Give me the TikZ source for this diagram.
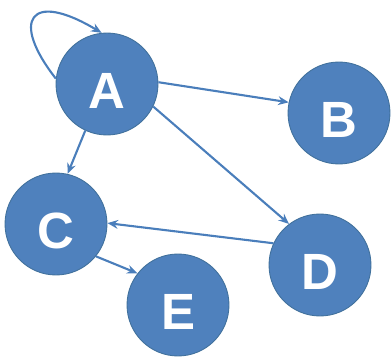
\documentclass[tikz,border=0pt]{standalone}
\usepackage{fontspec}
\setmainfont{Liberation Sans}
\usetikzlibrary{arrows.meta}
\definecolor{nodefill}{HTML}{4F81BD}
\definecolor{nodeedge}{HTML}{41719C}
\definecolor{edgecol}{HTML}{4A7EBB}
\tikzset{
  vertex/.style={circle, fill=nodefill, draw=nodeedge, line width=0.5pt,
    minimum size=2.04cm, inner sep=0pt, text=white,
    font=\fontsize{29}{29}\selectfont\bfseries,
    text height=27.4pt, text depth=0pt},
  link/.style={draw=edgecol, line width=1.2pt,
    -{Stealth[length=6pt, width=5pt]}}
}
\begin{document}
\begin{tikzpicture}[x=0.02cm, y=-0.02cm]
\useasboundingbox (0,0) rectangle (392,358);
\node[vertex] (A) at (107,84) {A};
\node[vertex] (B) at (339,113) {B};
\node[vertex] (C) at (56,224) {C};
\node[vertex] (D) at (320,265) {D};
\node[vertex] (E) at (178,305) {E};
\draw[link] (A.174) .. controls (10,20) and (30,-10) .. (A.96);
\draw[link] (A.2) -- (B.168);
\draw[link] (A.245) -- (C.77);
\draw[link] (A.334) -- (D.127);
\draw[link] (D.155) -- (C.1);
\draw[link] (C.321) -- (E.142);
\end{tikzpicture}
\end{document}
